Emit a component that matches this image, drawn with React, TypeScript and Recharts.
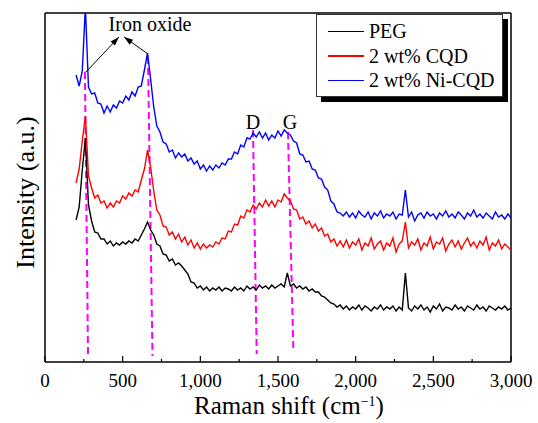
import React from "react";
import {
  LineChart,
  Line,
  XAxis,
  YAxis,
  Legend,
  ReferenceLine,
  ReferenceDot,
} from "recharts";

const serif = "Liberation Serif, Times New Roman, Times, Tinos, DejaVu Serif, serif";

// Raman shift grid, 200–3000 cm-1 every 20
const shifts = Array.from({ length: 141 }, (_, i) => 200 + 20 * i);

// intensities (a.u.)
const ni = [
  287, 276, 291, 355, 275, 268, 269, 259, 258, 249,
  256, 250, 257, 254, 261, 259, 266, 262, 270, 266,
  275, 276, 292, 309, 283, 255, 236, 230, 220, 218,
  210, 212, 204, 209, 205, 208, 201, 204, 198, 201,
  193, 197, 191, 196, 192, 197, 194, 199, 197, 203,
  203, 210, 208, 217, 215, 224, 223, 229, 225, 230,
  224, 229, 222, 227, 224, 231, 226, 232, 229, 227,
  221, 219, 208, 207, 200, 201, 193, 192, 184, 183,
  175, 172, 161, 158, 150, 149, 146, 150, 145, 149,
  144, 151, 147, 145, 150, 143, 149, 146, 151, 144,
  148, 146, 150, 143, 148, 147, 172, 145, 150, 141,
  147, 149, 144, 150, 146, 148, 143, 149, 146, 151,
  145, 148, 144, 150, 147, 143, 149, 146, 152, 145,
  148, 144, 149, 146, 143, 150, 145, 147, 143, 148,
  144,
];

const cqd = [
  179, 193, 221, 246, 186, 174, 164, 167, 159, 161,
  154, 159, 155, 161, 159, 166, 163, 169, 166, 172,
  170, 182, 193, 212, 195, 171, 152, 147, 136, 135,
  127, 130, 123, 128, 120, 125, 117, 122, 114, 119,
  113, 118, 114, 117, 115, 120, 118, 124, 123, 131,
  130, 138, 137, 146, 144, 152, 150, 157, 153, 159,
  155, 162, 156, 161, 155, 162, 160, 168, 164, 161,
  153, 152, 143, 145, 138, 141, 134, 138, 131, 134,
  126, 128, 120, 123, 116, 121, 115, 122, 114, 120,
  117, 123, 112, 119, 116, 124, 113, 118, 121, 112,
  119, 116, 124, 110, 118, 121, 140, 114, 120, 117,
  123, 112, 119, 116, 125, 113, 120, 118, 124, 111,
  118, 122, 115, 121, 113, 119, 124, 116, 120, 114,
  121, 117, 125, 112, 119, 116, 122, 113, 118, 115,
  112,
];

const peg = [
  142, 155, 192, 224, 157, 141, 130, 129, 123, 123,
  118, 121, 116, 119, 117, 120, 118, 121, 119, 123,
  121, 127, 133, 140, 132, 127, 118, 116, 108, 107,
  101, 103, 97, 99, 96, 92, 88, 80, 79, 74,
  76, 72, 75, 71, 74, 72, 75, 71, 74, 73,
  71, 75, 72, 74, 71, 76, 73, 75, 72, 77,
  74, 76, 73, 77, 74, 76, 78, 75, 89, 76,
  78, 74, 76, 73, 75, 71, 73, 70, 70, 66,
  65, 62, 59, 58, 55, 57, 53, 56, 52, 55,
  53, 57, 52, 56, 54, 51, 55, 53, 57, 52,
  55, 53, 56, 51, 55, 52, 89, 54, 51, 56,
  53, 57, 52, 55, 50, 56, 53, 58, 51, 55,
  54, 52, 57, 53, 55, 51, 56, 54, 52, 57,
  53, 55, 51, 56, 54, 52, 55, 53, 56, 52,
  54,
];

const seriesKeys = ["peg", "cqd", "ni"];
const seriesNames = ["PEG", "2 wt% CQD", "2 wt% Ni-CQD"];
const seriesColors = ["#000000", "#ff0000", "#0000ff"];

const xTicks = [0, 250, 500, 750, 1000, 1250, 1500, 1750, 2000, 2250, 2500, 2750, 3000];

// dashed guide lines: [top shift, top intensity, bottom shift, bottom intensity]
const guides = [
  [257, 290, 277, 6],
  [663, 305, 692, 6],
  [1339, 232, 1363, 8],
  [1564, 230, 1599, 12],
];

const data = shifts.map((s, i) => ({ shift: s, peg: peg[i], cqd: cqd[i], ni: ni[i] }));

const ShiftTick = (props: any) => {
  const { x, y, payload } = props;
  const major = payload.value % 500 === 0;
  return (
    <g>
      <line x1={x} x2={x} y1={y} y2={y - (major ? 6 : 3)} stroke="#000" strokeWidth={1.2} />
      {major && (
        <text x={x} y={y + 25} textAnchor="middle" fontSize={19} style={{ fontFamily: serif }} fill="#000">
          {payload.value.toLocaleString("en-US")}
        </text>
      )}
    </g>
  );
};

const Arrow = (props: any) => {
  const { x1, y1, x2, y2 } = props;
  const a = Math.atan2(y2 - y1, x2 - x1);
  const bx = x2 - 9 * Math.cos(a);
  const by = y2 - 9 * Math.sin(a);
  const s = Math.sin(a) * 3;
  const c = Math.cos(a) * 3;
  return (
    <g>
      <line x1={x1} y1={y1} x2={x2} y2={y2} stroke="#000" strokeWidth={1} />
      <polygon points={`${x2},${y2} ${bx - s},${by + c} ${bx + s},${by - c}`} fill="#000" />
    </g>
  );
};

const SeriesLegend = () => (
  <div
    style={{
      width: 185,
      height: 77,
      border: "1px solid #333",
      background: "#fff",
      boxShadow: "5px 5px 0 #000",
      fontFamily: serif,
      fontSize: 20,
      color: "#000",
      paddingTop: 4,
      boxSizing: "content-box",
    }}
  >
    {seriesNames.map((name, i) => (
      <div key={name} style={{ display: "flex", alignItems: "center", height: 24.5, lineHeight: "24px" }}>
        <span style={{ display: "inline-block", width: 36, height: 1.5, background: seriesColors[i], marginLeft: 11, marginRight: 5 }} />
        <span>{name}</span>
      </div>
    ))}
  </div>
);

export default function App() {
  return (
    <div>
      <style>{"body{margin:0}"}</style>
      <LineChart width={538} height={423} data={data} margin={{ top: 13, right: 27, bottom: 0, left: 0 }}>
        <XAxis
          dataKey="shift"
          type="number"
          domain={[0, 3000]}
          ticks={xTicks}
          interval={0}
          tickLine={false}
          tickSize={0}
          tickMargin={0}
          tick={<ShiftTick />}
          axisLine={{ stroke: "#000", strokeWidth: 1.5 }}
          height={61}
          label={{
            content: (p: any) => {
              const vb = p.viewBox;
              return (
                <text x={vb.x + vb.width / 2 + 11} y={vb.y + 52} textAnchor="middle" fontSize={25} style={{ fontFamily: serif }} fill="#000">
                  Raman shift (cm
                  <tspan fontSize={14} dy={-8}>−1</tspan>
                  <tspan dy={8}>)</tspan>
                </text>
              );
            },
          }}
        />
        <YAxis
          type="number"
          domain={[0, 349]}
          allowDataOverflow
          width={45}
          tick={false}
          tickLine={false}
          axisLine={{ stroke: "#000", strokeWidth: 1.5 }}
          label={{
            content: (p: any) => {
              const vb = p.viewBox;
              const cx = vb.x + 25;
              const cy = vb.y + vb.height / 2 + 5;
              return (
                <text
                  x={cx}
                  y={cy}
                  transform={`rotate(-90, ${cx}, ${cy})`}
                  textAnchor="middle"
                  dominantBaseline="central"
                  fontSize={26}
                  style={{ fontFamily: serif }}
                  fill="#000"
                >
                  Intensity (a.u.)
                </text>
              );
            },
          }}
        />
        <ReferenceLine y={349} stroke="#000" strokeWidth={1.5} />
        <ReferenceLine x={3000} stroke="#000" strokeWidth={1.5} />
        {guides.map((g, i) => (
          <ReferenceLine
            key={i}
            segment={[
              { x: g[0], y: g[1] },
              { x: g[2], y: g[3] },
            ]}
            stroke="#ff00ff"
            strokeWidth={2}
            strokeDasharray="7 4"
          />
        ))}
        {seriesKeys.map((k, i) => (
          <Line
            key={k}
            dataKey={k}
            name={seriesNames[i]}
            stroke={seriesColors[i]}
            strokeWidth={1.4}
            dot={false}
            isAnimationActive={false}
          />
        ))}
        <ReferenceLine segment={[{ x: 264, y: 290 }, { x: 476, y: 325 }]} shape={Arrow} />
        <ReferenceLine segment={[{ x: 663, y: 308 }, { x: 509, y: 325 }]} shape={Arrow} />
        <ReferenceDot
          x={676}
          y={338}
          r={0}
          fill="none"
          stroke="none"
          label={{ value: "Iron oxide", position: "center", fontSize: 20, style: { fontFamily: serif }, fill: "#000" }}
        />
        <ReferenceDot
          x={1339}
          y={240}
          r={0}
          fill="none"
          stroke="none"
          label={{ value: "D", position: "center", fontSize: 20, style: { fontFamily: serif }, fill: "#000" }}
        />
        <ReferenceDot
          x={1577}
          y={240}
          r={0}
          fill="none"
          stroke="none"
          label={{ value: "G", position: "center", fontSize: 20, style: { fontFamily: serif }, fill: "#000" }}
        />
        <Legend
          layout="vertical"
          align="center"
          verticalAlign="middle"
          content={<SeriesLegend />}
          wrapperStyle={{ left: 316, top: 14, width: "auto" }}
        />
      </LineChart>
    </div>
  );
}
